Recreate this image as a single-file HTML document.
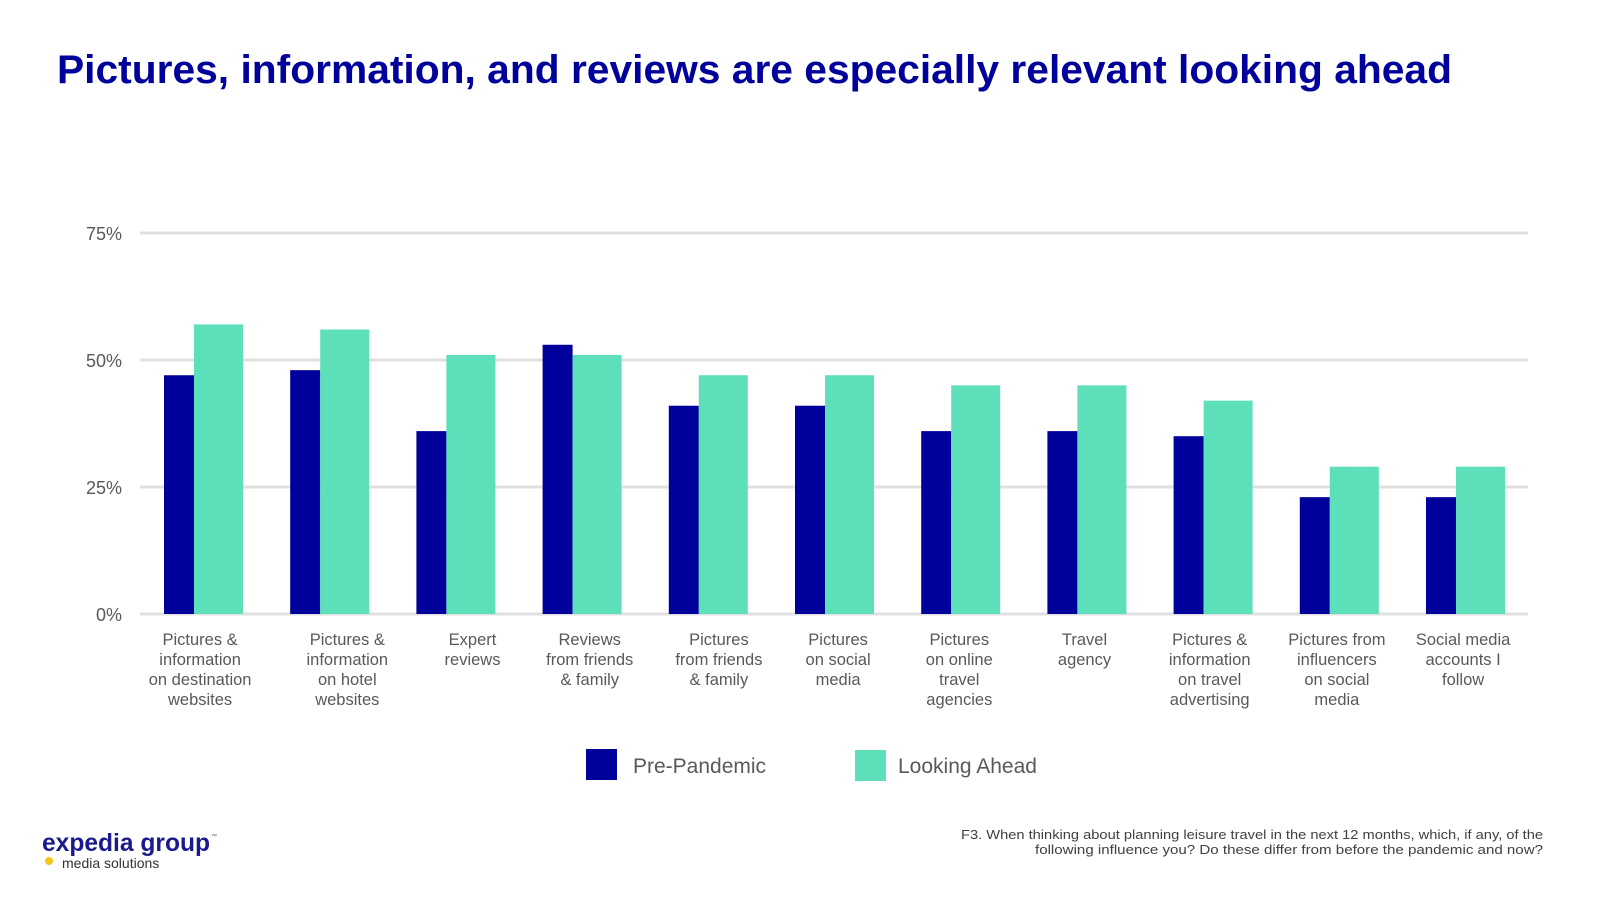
<!DOCTYPE html>
<html><head><meta charset="utf-8"><style>
html,body{margin:0;padding:0;background:#fff;}
svg{display:block;font-family:"Liberation Sans",sans-serif;}
</style></head><body>
<svg id="chart" width="1600" height="900" viewBox="0 0 1600 900">
<text x="57" y="83" font-size="40" font-weight="bold" fill="#00009a" textLength="1395" lengthAdjust="spacingAndGlyphs">Pictures, information, and reviews are especially relevant looking ahead</text>
<g id="grid"></g><g id="bars"></g><g id="labels"></g>
<g>
<rect x="586" y="749" width="31" height="31" fill="#00009a"/>
<text x="633" y="773" font-size="21" fill="#595959">Pre-Pandemic</text>
<rect x="855" y="750" width="31" height="31" fill="#5ddfba"/>
<text x="898" y="773" font-size="21" fill="#595959">Looking Ahead</text>
</g>
<g font-size="12.5" fill="#404040" text-anchor="end">
<text x="1543" y="839" textLength="582" lengthAdjust="spacingAndGlyphs">F3. When thinking about planning leisure travel in the next 12 months, which, if any, of the</text>
<text x="1543" y="854" textLength="508" lengthAdjust="spacingAndGlyphs">following influence you? Do these differ from before the pandemic and now?</text>
</g>
<g>
<text x="42" y="851" font-size="25" font-weight="bold" fill="#1a1a8c" textLength="168" lengthAdjust="spacingAndGlyphs">expedia group</text>
<text x="211" y="838" font-size="6" fill="#555">™</text>
<circle cx="49" cy="861" r="4" fill="#f5c518"/>
<text x="62" y="868" font-size="14" fill="#333">media solutions</text>
</g>
</svg>
<script>
const categories=[["Pictures &","information","on destination","websites"],["Pictures &","information","on hotel","websites"],["Expert","reviews"],["Reviews","from friends","& family"],["Pictures","from friends","& family"],["Pictures","on social","media"],["Pictures","on online","travel","agencies"],["Travel","agency"],["Pictures &","information","on travel","advertising"],["Pictures from","influencers","on social","media"],["Social media","accounts I","follow"]];
const prePandemic=[47,48,36,53,41,41,36,36,35,23,23];
const lookingAhead=[57,56,51,51,47,47,45,45,42,29,29];
const yTicks=[0,25,50,75];
const yTickLabels=["0%","25%","50%","75%"];

const NS="http://www.w3.org/2000/svg";
const x0=141,band=126.2,y0=614,pxPer=127/25;
const labelShift=[-4,17,16,7,10,3,-2,-3,-4,-3,-3];
const yScale=v=>y0-v*pxPer;
const xBand=i=>x0+i*band;
function mk(tag,attrs,parent){const e=document.createElementNS(NS,tag);for(const k in attrs)e.setAttribute(k,attrs[k]);parent.appendChild(e);return e;}
const grid=document.getElementById('grid'),bars=document.getElementById('bars'),labels=document.getElementById('labels');
yTicks.forEach((t,i)=>{
  const l=mk('line',{x1:140,x2:1528,y1:yScale(t),y2:yScale(t),stroke:'#e0e0e0','stroke-width':3},grid);
  
  
  const tx=mk('text',{x:122,y:yScale(t)+7,'font-size':18,fill:'#595959','text-anchor':'end'},grid);
  tx.textContent=yTickLabels[i];
  
  
});
categories.forEach((c,i)=>{
  const bx=xBand(i);
  const a=mk('rect',{x:bx+23,y:yScale(prePandemic[i]),width:30,height:prePandemic[i]*pxPer,fill:'#00009a'},bars);
  
  
  const b=mk('rect',{x:bx+53,y:yScale(lookingAhead[i]),width:49,height:lookingAhead[i]*pxPer,fill:'#5ddfba'},bars);
  
  
  const cx=bx+band/2+labelShift[i];
  const t=mk('text',{x:cx,y:645,'font-size':16.5,fill:'#595959','text-anchor':'middle'},labels);
  
  
  c.forEach((line,j)=>{const s=mk('tspan',{x:cx,y:645+j*20},t);s.textContent=line;});
});
</script>
</body></html>
